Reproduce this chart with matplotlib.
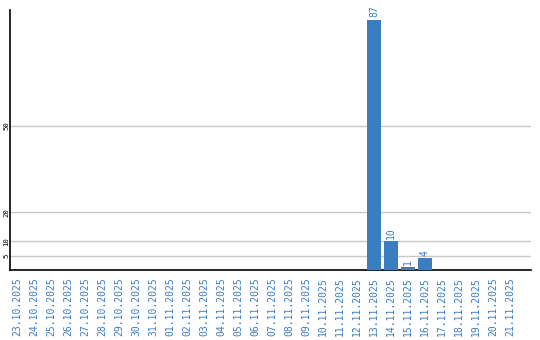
import matplotlib
matplotlib.use("Agg")
import matplotlib.pyplot as plt

dates = ["23.10.2025", "24.10.2025", "25.10.2025", "26.10.2025", "27.10.2025",
         "28.10.2025", "29.10.2025", "30.10.2025", "31.10.2025", "01.11.2025",
         "02.11.2025", "03.11.2025", "04.11.2025", "05.11.2025", "06.11.2025",
         "07.11.2025", "08.11.2025", "09.11.2025", "10.11.2025", "11.11.2025",
         "12.11.2025", "13.11.2025", "14.11.2025", "15.11.2025", "16.11.2025",
         "17.11.2025", "18.11.2025", "19.11.2025", "20.11.2025", "21.11.2025"]
counts = [0, 0, 0, 0, 0, 0, 0, 0, 0, 0,
          0, 0, 0, 0, 0, 0, 0, 0, 0, 0,
          0, 87, 10, 1, 4, 0, 0, 0, 0, 0]
y_ticks = [5, 10, 20, 50]

BLUE = "#3b7dc1"
MONO = "DejaVu Sans Mono"

fig = plt.figure(figsize=(5.4, 3.4), dpi=100)
ax = fig.add_axes([10 / 540, 70 / 340, 521 / 540, 260 / 340])

x = list(range(len(dates)))
bars = ax.bar(x, counts, width=0.82, color=BLUE, zorder=3)

# value labels above the non-empty bars
for xi, v in zip(x, counts):
    if v > 0:
        ax.annotate(str(v), (xi, v), xytext=(0, 1.5), textcoords="offset points",
                    rotation=90, ha="center", va="bottom", color=BLUE,
                    fontsize=7, family=MONO)

ax.set_xlim(-0.41, 30.24)
ax.set_ylim(0, 90.3)

ax.set_yticks(y_ticks)
ax.set_yticklabels([str(t) for t in y_ticks], rotation=90, va="center",
                   fontsize=5.2, family=MONO)
ax.yaxis.grid(True, color="#c8c8c8", linewidth=1, zorder=0)
ax.tick_params(axis="y", length=0, pad=0.5)

ax.set_xticks(x)
ax.set_xticklabels(dates, rotation=90, color=BLUE, fontsize=7, family=MONO)
ax.tick_params(axis="x", length=0, pad=5)

for side in ("top", "right"):
    ax.spines[side].set_visible(False)
for side in ("left", "bottom"):
    ax.spines[side].set_color("black")
    ax.spines[side].set_linewidth(1.2)

fig.savefig("out.png", dpi=100)
